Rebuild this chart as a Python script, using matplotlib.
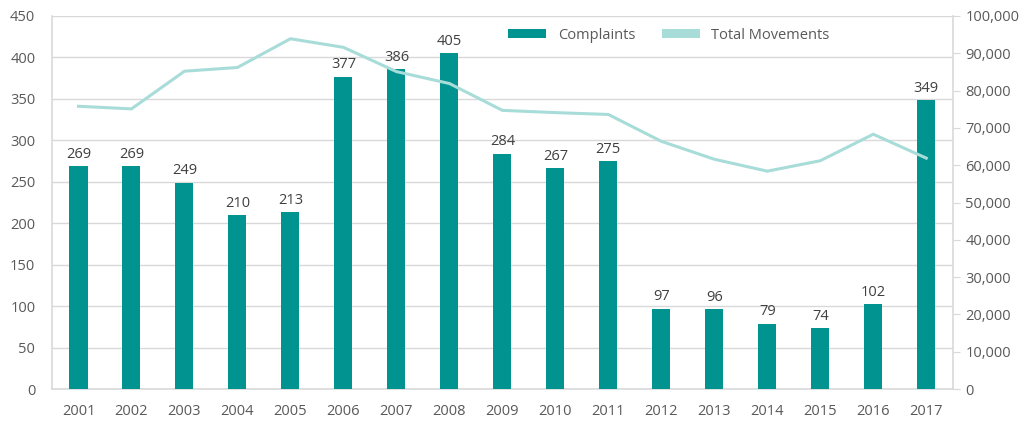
import matplotlib
matplotlib.use("Agg")
import matplotlib.pyplot as plt
from matplotlib.patches import Patch
from matplotlib.ticker import FuncFormatter
import numpy as np

years = ["2001","2002","2003","2004","2005","2006","2007","2008","2009",
         "2010","2011","2012","2013","2014","2015","2016","2017"]
complaints = [269, 269, 249, 210, 213, 377, 386, 405, 284, 267, 275, 97, 96, 79, 74, 102, 349]
movements = [75800, 75100, 85200, 86200, 93900, 91600, 85100, 81900, 74700,
             74100, 73600, 66400, 61600, 58400, 61200, 68300, 61900]

bar_color = "#00938F"
line_color = "#A8DCD9"
text_color = "#595959"
grid_color = "#D9D9D9"

plt.rcParams['font.family'] = ['Open Sans', 'DejaVu Sans']
fs = 10.5

fig = plt.figure(figsize=(10.30, 4.21), dpi=100)
ax = fig.add_axes([0.0505, 0.076, 0.8745, 0.886])
x = np.arange(len(years))

ax.bar(x, complaints, width=0.34, color=bar_color, zorder=3)
for xi, v in zip(x, complaints):
    ax.text(xi, v + 5, str(v), ha="center", va="bottom", fontsize=fs, color="#404040", zorder=4)

ax.set_ylim(0, 450)
ax.set_yticks(range(0, 451, 50))
ax.set_xlim(-0.5, len(years) - 0.5)
ax.set_xticks(x)
ax.set_xticklabels(years)
ax.yaxis.grid(True, color=grid_color, linewidth=1, zorder=0)
ax.set_axisbelow(True)
ax.tick_params(axis="both", length=0, colors=text_color, labelsize=fs)
ax.tick_params(axis="x", pad=11)
ax.tick_params(axis="y", pad=12)
for s in ["top", "right"]:
    ax.spines[s].set_visible(False)
ax.spines["left"].set_color(grid_color)
ax.spines["bottom"].set_color(grid_color)
ax.spines["left"].set_linewidth(1.2)
ax.spines["bottom"].set_linewidth(1.2)

ax2 = ax.twinx()
ax2.plot(x, movements, color=line_color, linewidth=2.2, zorder=5)
ax2.set_ylim(0, 100000)
ax2.set_yticks(range(0, 100001, 10000))
ax2.yaxis.set_major_formatter(FuncFormatter(lambda v, p: f"{int(v):,}"))
ax2.tick_params(axis="y", length=5, color=grid_color, colors=text_color, labelsize=fs, pad=4)
ax2.tick_params(axis="y", color=grid_color)
for s in ["top", "left", "bottom"]:
    ax2.spines[s].set_visible(False)
ax2.spines["right"].set_color(grid_color)
ax2.spines["right"].set_linewidth(1.2)

handles = [Patch(facecolor=bar_color, label="Complaints"),
           Patch(facecolor=line_color, label="Total Movements")]
ax2.legend(handles=handles, loc="center", bbox_to_anchor=(0.685, 0.949), ncol=2,
           frameon=False, fontsize=fs, labelcolor=text_color,
           handlelength=2.6, handleheight=0.6, handletextpad=0.8, columnspacing=1.8,
           borderaxespad=0, borderpad=0)

fig.savefig("out.png", dpi=100)
